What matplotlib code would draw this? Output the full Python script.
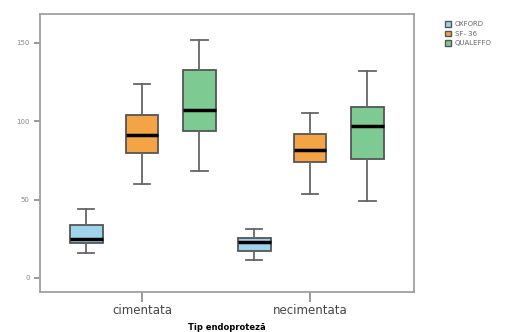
import matplotlib
matplotlib.use("Agg")
import matplotlib.pyplot as plt
from matplotlib.patches import Patch

groups = ["cimentata", "necimentata"]
series = ["OXFORD", "SF- 36", "QUALEFFO"]
colors = ["#9fd3ec", "#f4a444", "#7dcb92"]

# per series: [group1, group2] stats (whislo, q1, med, q3, whishi)
oxford = [(16, 22, 25, 34, 44), (11.5, 17, 23, 25.5, 31)]
sf36 = [(60, 80, 91, 104, 124), (53.5, 74, 81.5, 92, 105)]
qualeffo = [(68, 94, 107, 132.5, 152), (49, 76, 97, 109, 132)]
all_stats = [oxford, sf36, qualeffo]

fig = plt.figure(figsize=(5.09, 3.32), dpi=100)
ax = fig.add_axes([0.0786, 0.1205, 0.7348, 0.8375])

offsets = [-0.333, 0.0, 0.34]
for s, (vals, col) in enumerate(zip(all_stats, colors)):
    stats = []
    for lo, q1, med, q3, hi in vals:
        stats.append(dict(whislo=lo, q1=q1, med=med, q3=q3, whishi=hi, fliers=[]))
    pos = [g + 1 + offsets[s] for g in range(len(groups))]
    ax.bxp(stats, positions=pos, widths=0.196, patch_artist=True, showfliers=False,
           boxprops=dict(facecolor=col, edgecolor="#555555", linewidth=1.3),
           medianprops=dict(color="black", linewidth=2.5),
           whiskerprops=dict(color="#666666", linewidth=1.3),
           capprops=dict(color="#666666", linewidth=1.3),
           capwidths=0.1)

ax.set_xlim(0.393, 2.619)
ax.set_ylim(-9, 168.5)
ax.set_xticks([1, 2])
ax.set_xticklabels(groups, fontsize=8.5, color="#444444")
ax.set_yticks([0, 50, 100, 150])
ax.set_yticklabels(["0", "50", "100", "150"], fontsize=5, color="#888888")
ax.tick_params(axis="y", color="#888888", width=1.2, length=4)
ax.tick_params(axis="x", color="#888888", width=1.2, length=7, pad=2)
for sp in ax.spines.values():
    sp.set_color("#a0a0a0")
    sp.set_linewidth(1.3)

ax.set_xlabel("Tip endoproteză", fontsize=6, fontweight="bold", labelpad=4)

handles = [Patch(facecolor=c, edgecolor="#555555") for c in colors]
fig.legend(handles, series, loc="upper left",
           bbox_to_anchor=(0.862, 0.955), fontsize=5, frameon=False,
           handlelength=0.9, handleheight=0.9, handletextpad=0.5, labelspacing=0.45,
           labelcolor="#666666")

fig.savefig("out.png", dpi=100)
